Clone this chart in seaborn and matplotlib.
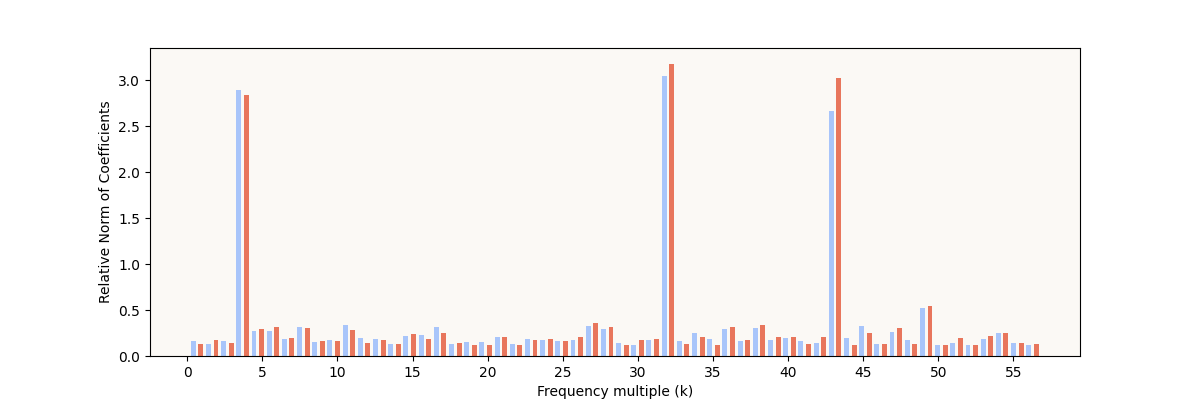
import numpy as np
import pandas as pd
import matplotlib
matplotlib.use("Agg")
import matplotlib.pyplot as plt
from matplotlib.ticker import MultipleLocator
import seaborn as sns

# frequency multiple of each pair of bars (pair centre)
freq_k = np.linspace(0.65, 56.28, 56)

# relative norm of coefficients, first series (light blue)
norm_a = [0.16, 0.13, 0.16, 2.89, 0.27, 0.27, 0.18, 0.31, 0.15, 0.17,
          0.34, 0.20, 0.19, 0.135, 0.22, 0.23, 0.31, 0.13, 0.15, 0.15,
          0.21, 0.135, 0.18, 0.17, 0.16, 0.17, 0.33, 0.29, 0.145, 0.125,
          0.17, 3.05, 0.16, 0.255, 0.19, 0.29, 0.16, 0.30, 0.17, 0.20,
          0.16, 0.145, 2.67, 0.20, 0.33, 0.135, 0.265, 0.17, 0.525, 0.115,
          0.145, 0.125, 0.19, 0.245, 0.145, 0.125]

# second series (red)
norm_b = [0.13, 0.17, 0.14, 2.84, 0.29, 0.32, 0.20, 0.30, 0.16, 0.16,
          0.28, 0.145, 0.17, 0.135, 0.235, 0.19, 0.245, 0.14, 0.125, 0.125,
          0.21, 0.125, 0.17, 0.19, 0.16, 0.21, 0.355, 0.31, 0.115, 0.17,
          0.18, 3.18, 0.135, 0.21, 0.125, 0.31, 0.17, 0.335, 0.21, 0.21,
          0.135, 0.21, 3.02, 0.115, 0.255, 0.135, 0.30, 0.135, 0.54, 0.125,
          0.20, 0.115, 0.22, 0.245, 0.145, 0.135]

series_names = ["A", "B"]
colors = ["#a8c5fa", "#e8765c"]

df = pd.concat([
    pd.DataFrame({"k": freq_k, "norm": norm_a, "series": series_names[0]}),
    pd.DataFrame({"k": freq_k, "norm": norm_b, "series": series_names[1]}),
], ignore_index=True)

fig, ax = plt.subplots(figsize=(12, 4), dpi=100)
ax.set_facecolor("#fbf9f5")

sns.barplot(data=df, x="k", y="norm", hue="series", hue_order=series_names,
            palette=colors, native_scale=True, width=1.0, gap=0.35,
            saturation=1, errorbar=None, legend=False, ax=ax)

ax.set_xlim(-2.48, 59.44)
ax.xaxis.set_major_locator(MultipleLocator(5))
ax.xaxis.set_major_formatter(matplotlib.ticker.FormatStrFormatter("%d"))
ax.set_ylim(0, 3.35)
ax.yaxis.set_major_locator(MultipleLocator(0.5))
ax.yaxis.set_major_formatter(matplotlib.ticker.FormatStrFormatter("%.1f"))
ax.set_xlabel("Frequency multiple (k)")
ax.set_ylabel("Relative Norm of Coefficients")

fig.savefig("out.png")
